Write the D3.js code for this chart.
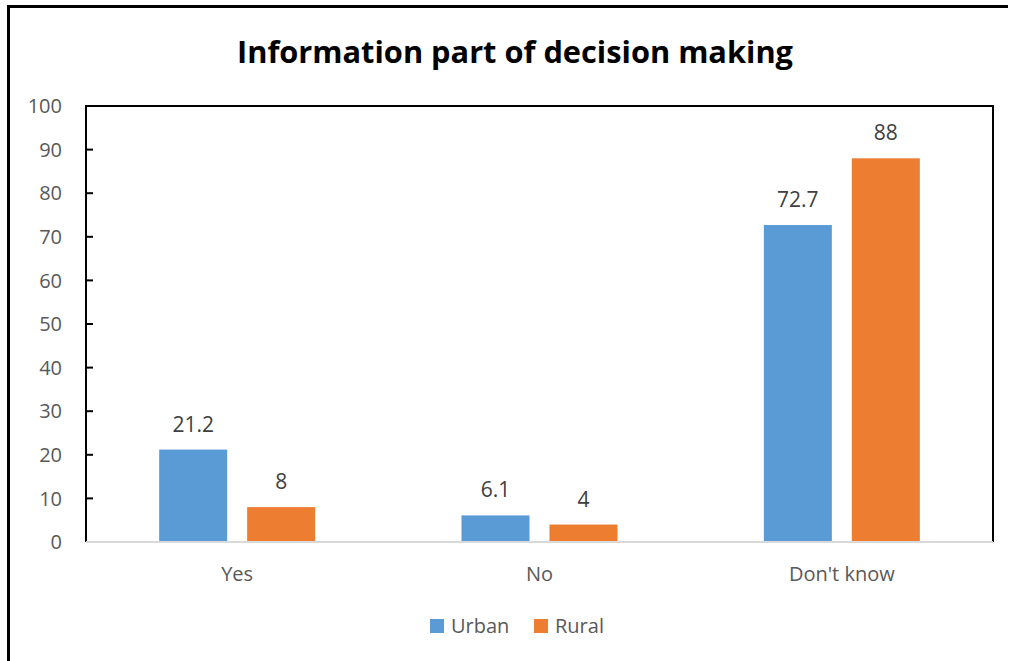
<!DOCTYPE html>
<html>
<head>
<meta charset="utf-8">
<script src="https://cdn.jsdelivr.net/npm/d3@7"></script>
<style>
  html, body { margin: 0; padding: 0; background: #fff; }
  svg { display: block; }
  text { font-family: "Open Sans", "Liberation Sans", sans-serif; }
</style>
</head>
<body>
<svg id="chart" width="1013" height="661"></svg>
<script>
// Survey answers by area
const categories = ["Yes", "No", "Don't know"];
const seriesNames = ["Urban", "Rural"];
const urbanValues = [21.2, 6.1, 72.7];
const ruralValues = [8, 4, 88];
const yTicks = [0, 10, 20, 30, 40, 50, 60, 70, 80, 90, 100];
const chartTitle = "Information part of decision making";

const colors = { Urban: "#5B9BD5", Rural: "#ED7D31" };
const seriesValues = { Urban: urbanValues, Rural: ruralValues };

const svg = d3.select("#chart");
const plot = { left: 86, right: 993, top: 106, bottom: 542 };

// Outer frame (left and top edges visible)
svg.append("path")
  .attr("d", "M8.5,661 L8.5,6.5 L1008,6.5")
  .attr("fill", "none")
  .attr("stroke", "#000")
  .attr("stroke-width", 3);

// Title, condensed to its box width
svg.append("text")
  .attr("x", 515)
  .attr("y", 63)
  .attr("text-anchor", "middle")
  .attr("font-weight", "bold")
  .attr("font-size", 31)
  .attr("textLength", 556)
  .attr("lengthAdjust", "spacingAndGlyphs")
  .attr("fill", "#000")
  .text(chartTitle);

const x0 = d3.scaleBand()
  .domain(categories)
  .range([plot.left, plot.right])
  .paddingInner(0.484)
  .paddingOuter(0.242);

const x1 = d3.scaleBand()
  .domain(seriesNames)
  .range([0, x0.bandwidth()])
  .paddingInner(0.227)
  .paddingOuter(0);

const y = d3.scaleLinear()
  .domain([0, 100])
  .range([plot.bottom, plot.top]);

// Plot frame: top, right and left edges in black
svg.append("path")
  .attr("d", `M${plot.left},${plot.bottom} L${plot.left},${plot.top} L${plot.right},${plot.top} L${plot.right},${plot.bottom}`)
  .attr("fill", "none")
  .attr("stroke", "#000")
  .attr("stroke-width", 2);

// Y axis ticks pointing inward, labels on the left
const yAxis = svg.append("g");
yAxis.selectAll("line.tick")
  .data(yTicks.filter(d => d > 0 && d < 100))
  .join("line")
  .attr("class", "tick")
  .attr("x1", plot.left)
  .attr("x2", plot.left + 7)
  .attr("y1", d => y(d))
  .attr("y2", d => y(d))
  .attr("stroke", "#000")
  .attr("stroke-width", 2);
yAxis.selectAll("text")
  .data(yTicks)
  .join("text")
  .attr("x", 62)
  .attr("y", d => y(d))
  .attr("dy", "0.36em")
  .attr("text-anchor", "end")
  .attr("font-size", 20)
  .attr("fill", "#595959")
  .text(d => d);

// Bars
const groups = svg.append("g")
  .selectAll("g")
  .data(categories)
  .join("g")
  .attr("transform", d => `translate(${x0(d)},0)`);

groups.selectAll("rect")
  .data((c, i) => seriesNames.map(s => ({ s, v: seriesValues[s][i] })))
  .join("rect")
  .attr("x", d => x1(d.s))
  .attr("width", x1.bandwidth())
  .attr("y", d => y(d.v))
  .attr("height", d => y(0) - y(d.v))
  .attr("fill", d => colors[d.s]);

// Value labels
groups.selectAll("text")
  .data((c, i) => seriesNames.map(s => ({ s, v: seriesValues[s][i] })))
  .join("text")
  .attr("x", d => x1(d.s) + x1.bandwidth() / 2)
  .attr("y", d => y(d.v) - 18)
  .attr("text-anchor", "middle")
  .attr("font-size", 21)
  .attr("fill", "#404040")
  .text(d => d.v);

// X axis baseline
svg.append("line")
  .attr("x1", plot.left)
  .attr("x2", plot.right)
  .attr("y1", plot.bottom)
  .attr("y2", plot.bottom)
  .attr("stroke", "#D9D9D9")
  .attr("stroke-width", 2);

// Category labels
svg.append("g")
  .selectAll("text")
  .data(categories)
  .join("text")
  .attr("x", d => x0(d) + x0.bandwidth() / 2)
  .attr("y", 581)
  .attr("text-anchor", "middle")
  .attr("font-size", 20)
  .attr("fill", "#595959")
  .text(d => d);

// Legend
const legendX = [430, 534];
const legend = svg.append("g")
  .selectAll("g")
  .data(seriesNames)
  .join("g")
  .attr("transform", (d, i) => `translate(${legendX[i]},619)`);
legend.append("rect")
  .attr("width", 14)
  .attr("height", 14)
  .attr("fill", d => colors[d]);
legend.append("text")
  .attr("x", 21)
  .attr("y", 14)
  .attr("font-size", 20)
  .attr("fill", "#595959")
  .text(d => d);
</script>
</body>
</html>
